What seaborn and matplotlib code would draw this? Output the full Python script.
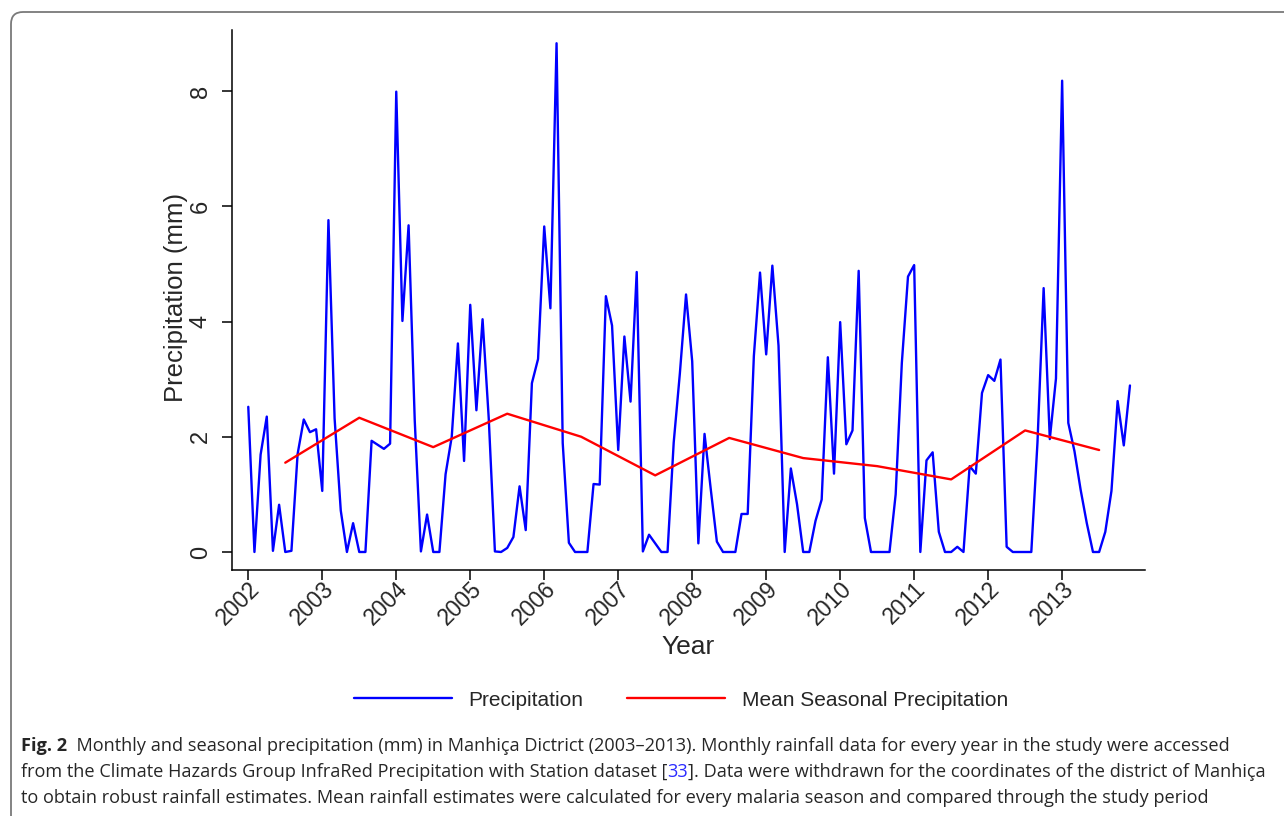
import numpy as np
import pandas as pd
import matplotlib
matplotlib.use("Agg")
import matplotlib.pyplot as plt
import matplotlib.transforms as mtransforms
import seaborn as sns
from matplotlib.patches import FancyBboxPatch

# ---------------- data ----------------
years = list(range(2002, 2014))
monthly_precip = [
    2.52, 0.00, 1.69, 2.35, 0.02, 0.82, 0.00, 0.02, 1.70, 2.30, 2.08, 2.13,  # 2002
    1.06, 5.76, 2.32, 0.72, 0.00, 0.50, 0.00, 0.00, 1.93, 1.86, 1.79, 1.88,  # 2003
    7.99, 4.01, 5.67, 2.28, 0.01, 0.65, 0.00, 0.00, 1.35, 2.00, 3.62, 1.58,  # 2004
    4.29, 2.46, 4.04, 2.32, 0.01, 0.00, 0.07, 0.26, 1.14, 0.38, 2.93, 3.35,  # 2005
    5.65, 4.23, 8.83, 1.89, 0.16, 0.00, 0.00, 0.00, 1.18, 1.17, 4.44, 3.93,  # 2006
    1.77, 3.74, 2.61, 4.86, 0.01, 0.30, 0.15, 0.00, 0.00, 1.90, 3.10, 4.47,  # 2007
    3.31, 0.15, 2.05, 1.10, 0.18, 0.00, 0.00, 0.00, 0.66, 0.66, 3.40, 4.85,  # 2008
    3.43, 4.97, 3.58, 0.00, 1.45, 0.83, 0.00, 0.00, 0.54, 0.91, 3.38, 1.36,  # 2009
    3.99, 1.87, 2.11, 4.88, 0.59, 0.00, 0.00, 0.00, 0.00, 1.00, 3.28, 4.78,  # 2010
    4.98, 0.00, 1.59, 1.73, 0.35, 0.00, 0.00, 0.09, 0.00, 1.49, 1.36, 2.76,  # 2011
    3.07, 2.97, 3.34, 0.09, 0.00, 0.00, 0.00, 0.00, 1.90, 4.58, 1.96, 3.01,  # 2012
    8.18, 2.24, 1.75, 1.08, 0.50, 0.00, 0.00, 0.35, 1.06, 2.62, 1.85, 2.89,  # 2013
]
season_mid = [2002.5, 2003.5, 2004.5, 2005.5, 2006.5, 2007.5,
              2008.5, 2009.5, 2010.5, 2011.5, 2012.5, 2013.5]
seasonal_mean = [1.55, 2.33, 1.82, 2.40, 2.00, 1.33,
                 1.98, 1.63, 1.49, 1.26, 2.11, 1.77]
y_ticks = [0, 2, 4, 6, 8]

month_time = [y + m / 12 for y in years for m in range(12)]
df_m = pd.DataFrame({"year": month_time, "precip": monthly_precip})
df_s = pd.DataFrame({"year": season_mid, "mean": seasonal_mean})

# ---------------- style ----------------
sns.set_style("white")
plt.rcParams["font.family"] = ["Liberation Sans", "DejaVu Sans"]

W, H = 1284, 816
fig = plt.figure(figsize=(W / 100, H / 100), dpi=100)
fig.patch.set_facecolor("white")

ax = fig.add_axes([232 / W, 1 - 570 / H, 913 / W, 540 / H])
sns.lineplot(data=df_m, x="year", y="precip", color=(0, 0, 1), lw=1.7,
             ax=ax, label="Precipitation")
sns.lineplot(data=df_s, x="year", y="mean", color=(1, 0, 0), lw=1.7,
             ax=ax, label="Mean Seasonal Precipitation")

ax.set_xlim(2001.78, 2014.12)
ax.set_ylim(-0.3125, 9.06)
ax.set_xticks(years)
ax.set_xticklabels([str(y) for y in years], rotation=45, ha="right",
                   va="center", rotation_mode="anchor", fontsize=16.5)
ax.set_yticks(y_ticks)
ax.set_yticklabels([str(v) for v in y_ticks], rotation=90, va="center",
                   fontsize=17)
ax.tick_params(axis="both", direction="out", length=7.5, width=1.1,
               color="black", bottom=True, left=True)
ax.tick_params(axis="x", pad=5)
ax.tick_params(axis="y", pad=7)
shift = mtransforms.ScaledTranslation(0.08, 0.02, fig.dpi_scale_trans)
for lab in ax.get_xticklabels():
    lab.set_transform(lab.get_transform() + shift)
for s in ["top", "right"]:
    ax.spines[s].set_visible(False)
for s in ["left", "bottom"]:
    ax.spines[s].set_color("black")
    ax.spines[s].set_linewidth(1.1)

ax.set_xlabel("Year", fontsize=19)
ax.set_ylabel("Precipitation (mm)", fontsize=18.5)
ax.xaxis.set_label_coords(0.5, -0.121)
ax.yaxis.set_label_coords(-0.048, 0.505)

handles, labels = ax.get_legend_handles_labels()
ax.get_legend().remove()
fig.legend(handles, labels, loc="center", bbox_to_anchor=(681 / W, 1 - 700 / H),
           ncol=2, frameon=False, fontsize=15, handlelength=4.7,
           handletextpad=0.8, columnspacing=2.1)

# ---------------- frame ----------------
frame = FancyBboxPatch((0.11, -0.5), 14.0, 8.16 - 0.12 + 0.5,
                       boxstyle="round,pad=0,rounding_size=0.12",
                       transform=fig.dpi_scale_trans, facecolor="none",
                       edgecolor="#7a7a7a", lw=1.3, zorder=0)
fig.patches.append(frame)

# ---------------- caption ----------------
cap_font = ["Open Sans", "DejaVu Sans"]
cap_size = 13.1
fig.canvas.draw()
renderer = fig.canvas.get_renderer()


def place_segments(segments, x0, y_base):
    x = x0
    for txt, kw in segments:
        t = fig.text(x / W, 1 - y_base / H, txt, fontsize=cap_size,
                     family=cap_font, va="baseline", ha="left", **kw)
        bb = t.get_window_extent(renderer=renderer)
        x += bb.width


place_segments([("Fig. 2", {"weight": "bold"}),
                ("  Monthly and seasonal precipitation (mm) in Manhiça Dictrict (2003\u20132013). "
                 "Monthly rainfall data for every year in the study were accessed", {})],
               21, 751)
place_segments([("from the Climate Hazards Group InfraRed Precipitation with Station dataset [", {}),
                ("33", {"color": "#2a2aff"}),
                ("]. Data were withdrawn for the coordinates of the district of Manhiça", {})],
               21, 777)
place_segments([("to obtain robust rainfall estimates. Mean rainfall estimates were calculated "
                 "for every malaria season and compared through the study period", {})],
               21, 803)

fig.savefig("out.png", dpi=100, facecolor="white")
